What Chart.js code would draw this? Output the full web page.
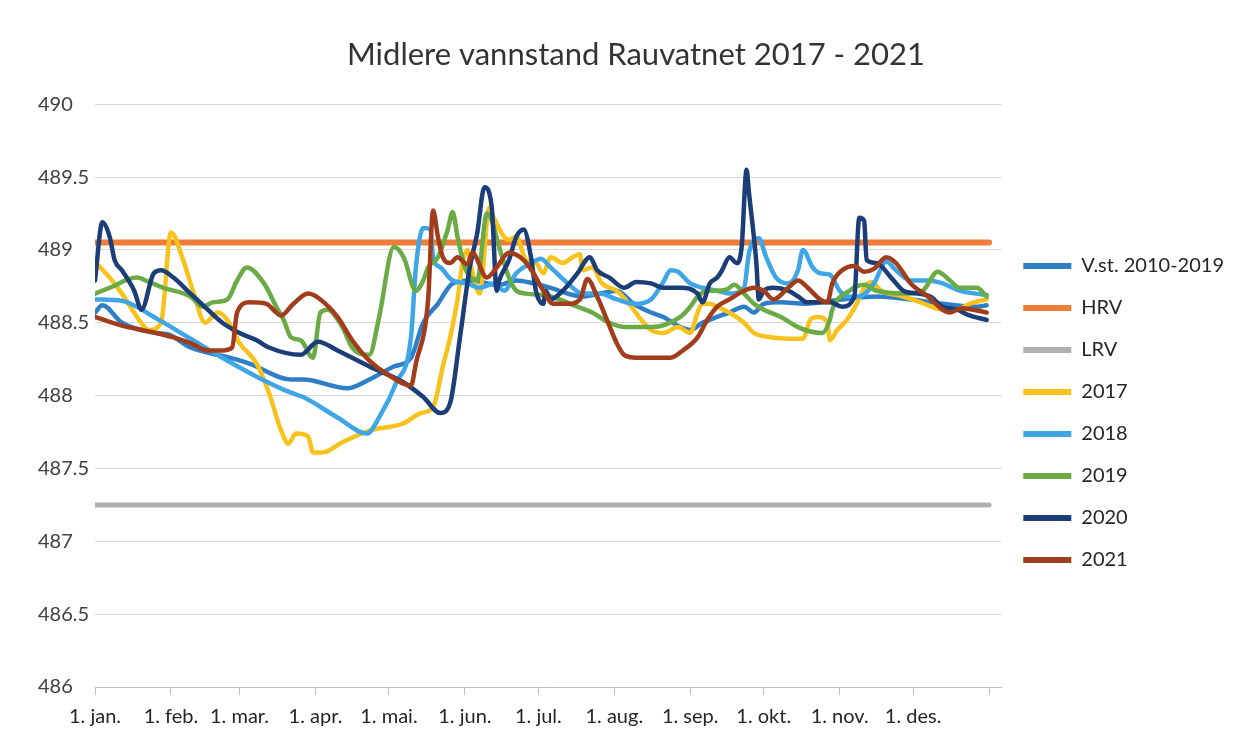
<!DOCTYPE html>
<html>
<head>
<meta charset="utf-8">
<title>Midlere vannstand Rauvatnet 2017 - 2021</title>
<script src="https://cdn.jsdelivr.net/npm/chart.js@4"></script>
<style>
  body { margin: 0; background: #fff; }
  canvas { display: block; }
</style>
</head>
<body>
<canvas id="chart" width="1234" height="738"></canvas>
<script>
// x axis: day of year, ticks on the first of each month
const monthDays = [0, 31, 59, 90, 120, 151, 181, 212, 243, 273, 304, 334, 365];
const monthLabels = ["1. jan.", "1. feb.", "1. mar.", "1. apr.", "1. mai.", "1. jun.",
  "1. jul.", "1. aug.", "1. sep.", "1. okt.", "1. nov.", "1. des.", ""];

const seriesNames = ["V.st. 2010-2019", "HRV", "LRV", "2017", "2018", "2019", "2020", "2021"];

// regulation limits
const hrvLevel = 489.05;
const lrvLevel = 487.25;

// mean level 2010-2019
const vstDays = [0,3,11,25,30,39,55,63,80,85,103,112,122,129,134,140,146,153,165,172,179,186,193,199,206,213,220,227,232,239,243,248,254,259,265,269,273,280,290,305,319,333,346,360,364];
const vstLevels = [488.57,488.62,488.50,488.43,488.42,488.33,488.26,488.22,488.11,488.11,488.05,488.11,488.20,488.26,488.50,488.63,488.77,488.79,488.76,488.79,488.77,488.74,488.70,488.68,488.70,488.72,488.63,488.57,488.54,488.47,488.45,488.50,488.54,488.57,488.61,488.57,488.63,488.64,488.63,488.66,488.68,488.66,488.63,488.61,488.62];

const days2017 = [1,6,11,18,22,27,31,36,40,45,50,54,59,66,71,76,79,82,87,89,93,101,112,126,133,138,142,145,148,150,152,154,157,161,162,167,169,172,176,180,183,186,191,195,198,199,203,207,213,218,223,227,232,238,243,246,248,251,254,259,265,269,276,283,289,292,295,299,300,303,307,311,314,317,321,330,337,346,352,357,364];
const levels2017 = [488.90,488.81,488.70,488.52,488.45,488.50,489.12,488.93,488.72,488.50,488.57,488.52,488.36,488.22,488.02,487.76,487.67,487.74,487.72,487.61,487.61,487.68,487.76,487.81,487.88,487.92,488.20,488.40,488.66,488.91,489.00,488.85,488.70,489.29,489.25,489.09,489.07,489.09,488.93,488.91,488.84,488.95,488.91,488.95,488.97,488.86,488.88,488.77,488.72,488.63,488.52,488.45,488.43,488.47,488.43,488.57,488.63,488.63,488.61,488.57,488.50,488.43,488.40,488.39,488.39,488.52,488.54,488.50,488.38,488.45,488.52,488.63,488.74,488.78,488.72,488.68,488.64,488.59,488.59,488.63,488.66];

const days2018 = [0,11,25,39,52,66,80,85,99,111,116,123,129,131,134,137,138,141,146,152,157,163,167,172,178,182,186,193,199,206,213,220,227,232,235,238,243,248,254,259,265,267,271,274,278,283,287,289,293,296,300,304,307,312,318,323,327,333,340,346,353,364];
const levels2018 = [488.66,488.65,488.53,488.39,488.26,488.13,488.02,487.99,487.85,487.74,487.85,488.09,488.40,488.88,489.15,489.14,488.95,488.88,488.79,488.77,488.74,488.77,488.72,488.84,488.91,488.94,488.88,488.77,488.70,488.70,488.66,488.63,488.66,488.78,488.86,488.85,488.77,488.74,488.72,488.70,488.74,488.98,489.08,488.95,488.81,488.77,488.86,489.00,488.88,488.84,488.83,488.72,488.68,488.68,488.77,488.92,488.86,488.79,488.79,488.77,488.72,488.69];

const days2019 = [0,6,17,22,28,39,44,48,54,58,62,69,74,77,80,84,89,92,95,101,105,112,116,122,126,131,134,136,140,144,146,148,151,156,160,162,165,169,172,176,186,197,203,210,217,227,239,243,246,250,254,258,261,265,269,273,280,287,292,297,300,301,308,314,319,333,338,344,349,353,360,364];
const levels2019 = [488.70,488.74,488.81,488.78,488.74,488.68,488.61,488.64,488.66,488.79,488.88,488.77,488.61,488.52,488.40,488.38,488.26,488.57,488.59,488.47,488.33,488.28,488.54,489.02,488.95,488.72,488.79,488.88,488.95,489.14,489.26,489.09,488.88,488.79,489.25,489.20,489.02,488.81,488.72,488.70,488.68,488.61,488.57,488.50,488.47,488.47,488.54,488.61,488.68,488.72,488.72,488.73,488.76,488.70,488.63,488.59,488.54,488.47,488.44,488.43,488.52,488.59,488.72,488.76,488.72,488.70,488.72,488.85,488.79,488.74,488.74,488.68];

const days2020 = [0,3,6,8,11,16,19,24,27,32,39,46,52,59,66,71,84,91,99,112,126,134,141,145,149,153,156,159,162,164,165,169,172,175,178,180,183,184,186,191,197,202,205,210,216,221,227,232,239,246,248,251,254,256,259,262,264,266,267,270,271,273,277,283,287,291,300,305,310,312,314,315,319,325,330,336,341,346,352,357,364];
const levels2020 = [488.79,489.19,489.09,488.93,488.86,488.72,488.59,488.84,488.86,488.81,488.70,488.59,488.50,488.43,488.38,488.33,488.28,488.37,488.31,488.20,488.09,487.99,487.88,487.95,488.40,488.88,489.11,489.43,489.29,488.72,488.79,488.93,489.09,489.14,488.95,488.72,488.63,488.72,488.66,488.72,488.84,488.95,488.86,488.81,488.74,488.78,488.77,488.74,488.74,488.70,488.64,488.77,488.81,488.86,488.95,488.91,489.02,489.55,489.39,488.91,488.66,488.72,488.74,488.72,488.68,488.64,488.64,488.61,488.68,489.22,489.20,488.93,488.91,488.81,488.72,488.70,488.68,488.61,488.59,488.55,488.52];

const days2021 = [0,11,25,32,39,46,52,56,58,63,70,74,76,81,87,92,99,105,112,119,129,131,136,138,140,142,145,148,152,154,160,164,169,175,179,183,187,193,198,201,205,209,213,216,221,227,235,240,246,250,254,259,265,269,273,277,283,287,291,296,299,301,305,310,314,318,323,327,333,340,346,349,354,364];
const levels2021 = [488.54,488.48,488.43,488.40,488.36,488.31,488.31,488.33,488.57,488.64,488.63,488.57,488.55,488.63,488.70,488.66,488.54,488.38,488.24,488.15,488.07,488.22,488.66,489.27,489.09,488.95,488.91,488.95,488.90,488.98,488.81,488.88,488.98,488.93,488.84,488.72,488.63,488.63,488.66,488.80,488.68,488.52,488.36,488.28,488.26,488.26,488.26,488.31,488.40,488.52,488.61,488.66,488.72,488.74,488.72,488.66,488.74,488.79,488.74,488.66,488.64,488.77,488.86,488.89,488.85,488.87,488.95,488.91,488.77,488.68,488.59,488.57,488.60,488.57];

const colors = ["#2f7ec8", "#ee7d3a", "#b0b0b0", "#f8c21c", "#3ea6e6", "#6aab45", "#1c3e78", "#a23d1c"];

function pts(days, levels) {
  return days.map((d, i) => ({ x: d, y: levels[i] }));
}

const seriesData = [
  pts(vstDays, vstLevels),
  pts([0, 365], [hrvLevel, hrvLevel]),
  pts([0, 365], [lrvLevel, lrvLevel]),
  pts(days2017, levels2017),
  pts(days2018, levels2018),
  pts(days2019, levels2019),
  pts(days2020, levels2020),
  pts(days2021, levels2021)
];

const datasets = seriesNames.map((name, i) => ({
  label: name,
  data: seriesData[i],
  borderColor: colors[i],
  backgroundColor: colors[i],
  borderWidth: i === 1 ? 6 : (i === 2 ? 5 : 4.5),
  pointRadius: 0,
  cubicInterpolationMode: "monotone",
  borderCapStyle: "round",
  borderJoinStyle: "round",
  order: seriesNames.length - i   // later years on top
}));

const font = "Lato, 'Liberation Sans', sans-serif";

new Chart(document.getElementById("chart"), {
  type: "line",
  data: { datasets },
  options: {
    responsive: false,
    animation: false,
    devicePixelRatio: 1,
    layout: { padding: { left: 38, right: 0, top: 0, bottom: 0 } },
    plugins: {
      title: {
        display: true,
        text: "Midlere vannstand Rauvatnet 2017 - 2021",
        color: "#333333",
        font: { family: font, size: 31, weight: "normal" },
        padding: { top: 36, bottom: 31 }
      },
      legend: {
        position: "right",
        align: "start",
        title: { display: true, text: "", font: { size: 10, lineHeight: 1 }, padding: { top: 224, bottom: 0 } },
        labels: {
          usePointStyle: true,
          pointStyle: "line",
          pointStyleWidth: 48,
          padding: 22,
          color: "#262626",
          font: { family: font, size: 20 },
          generateLabels: (chart) =>
            Chart.defaults.plugins.legend.labels.generateLabels(chart)
              .map(item => ({ ...item, lineWidth: 6 })),
          sort: (a, b) => a.datasetIndex - b.datasetIndex
        }
      },
      tooltip: { enabled: false }
    },
    scales: {
      x: {
        type: "linear",
        min: 0,
        max: 370,
        afterBuildTicks: (scale) => {
          scale.ticks = monthDays.map(v => ({ value: v }));
        },
        afterFit: (scale) => { scale.height = 51; },
        ticks: {
          autoSkip: false,
          maxRotation: 0,
          padding: 10,
          color: "#262626",
          font: { family: font, size: 20 },
          callback: (v, i) => monthLabels[i]
        },
        grid: { drawOnChartArea: false, drawTicks: true, tickLength: 8, color: "#c0c0c0" },
        border: { display: true, color: "#c0c0c0" }
      },
      y: {
        min: 486,
        max: 490,
        afterFit: (scale) => { scale.width = 57; },
        ticks: {
          stepSize: 0.5,
          crossAlign: "far",
          color: "#404040",
          font: { family: font, size: 20 },
          callback: (v) => String(+v.toFixed(1))
        },
        grid: { drawTicks: false, color: "#d9d9d9" },
        border: { display: false }
      }
    }
  }
});
</script>
</body>
</html>
